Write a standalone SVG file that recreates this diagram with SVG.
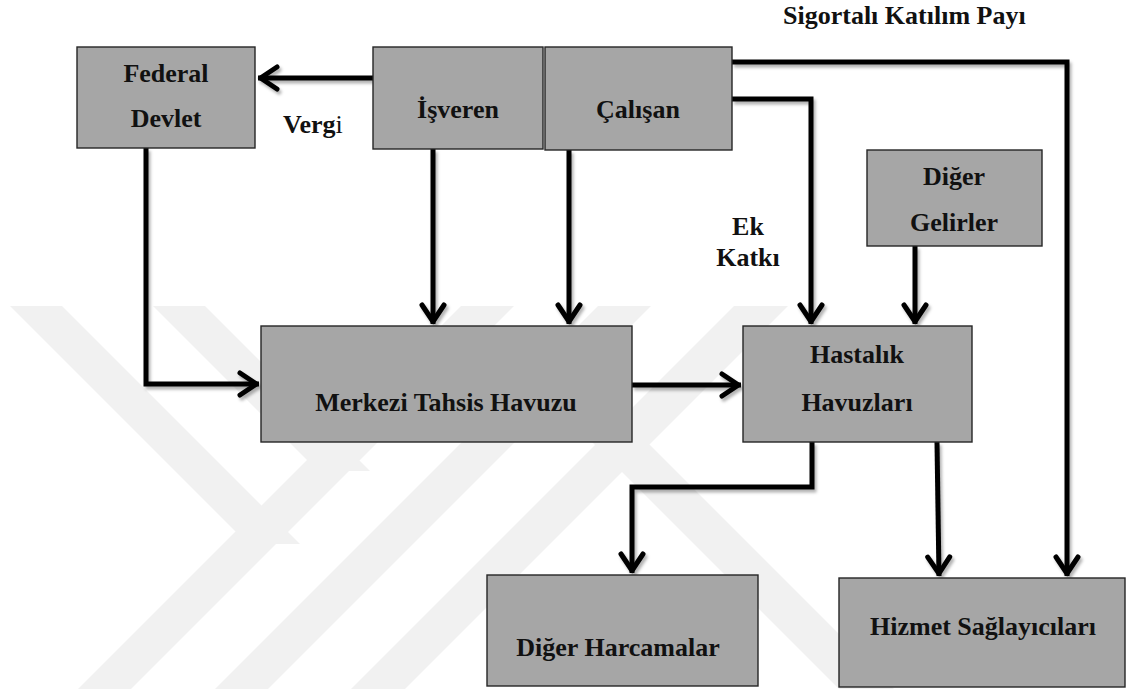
<svg xmlns="http://www.w3.org/2000/svg" width="1129" height="689" viewBox="0 0 1129 689">
<style>
.box{fill:#a6a6a6;stroke:#262626;stroke-width:1.4}
.t{font-family:"Liberation Serif","Times New Roman",serif;font-weight:bold;font-size:26px;fill:#111}
.c{text-anchor:middle}
.ln{fill:none;stroke:#000;stroke-width:5;stroke-linejoin:miter;marker-end:url(#ah)}
.wm{fill:#f1f1f1}
</style>
<defs>
<marker id="ah" markerUnits="userSpaceOnUse" markerWidth="30" markerHeight="30" viewBox="-25 -15 30 30" refX="0" refY="0" orient="auto">
<path d="M-19,-11 L-2.5,0 L-19,11" fill="none" stroke="#000" stroke-width="5" stroke-linecap="round" stroke-linejoin="round"/>
</marker>
<filter id="sh" x="-5%" y="-5%" width="110%" height="110%">
<feDropShadow dx="2" dy="3" stdDeviation="1.5" flood-color="#000" flood-opacity="0.3"/>
</filter>
</defs>
<rect width="1129" height="689" fill="#fff"/>
<g id="watermark">
<polygon class="wm" points="78,689 131,689 514,306 461,306"/>
<polygon class="wm" points="215,689 268,689 651,306 598,306"/>
<polygon class="wm" points="351,689 405,689 788,306 734,306"/>
<polygon class="wm" points="10,306 62,306 300,544 248,544"/>
<polygon class="wm" points="153,306 205,306 370,471 318,471"/>
<polygon class="wm" points="530,380 585,380 894,689 839,689"/>
</g>
<g id="connectors" filter="url(#sh)">
<path class="ln" d="M373,78 H258"/>
<path class="ln" d="M732,62 H1067 V576"/>
<path class="ln" d="M732,99 H811 V324"/>
<path class="ln" d="M915,246 V324"/>
<path class="ln" d="M433,149 V324"/>
<path class="ln" d="M569,150 V324"/>
<path class="ln" d="M146,148 V384 H259"/>
<path class="ln" d="M632,385 H741"/>
<path class="ln" d="M812,442 V487 H632 V573"/>
<path class="ln" d="M937,442 L939,576"/>
</g>
<g id="federal-devlet">
<rect class="box" x="77" y="47" width="178" height="101"/>
<text class="t c" x="166" y="82">Federal</text>
<text class="t c" x="166" y="127">Devlet</text>
</g>
<g id="isveren">
<rect class="box" x="373" y="47" width="170" height="102"/>
<text class="t c" x="458" y="118">İşveren</text>
</g>
<g id="calisan">
<rect class="box" x="545" y="47" width="187" height="103"/>
<text class="t c" x="638" y="118">Çalışan</text>
</g>
<g id="diger-gelirler">
<rect class="box" x="867" y="150" width="175" height="96"/>
<text class="t c" x="954" y="185">Diğer</text>
<text class="t c" x="954" y="231">Gelirler</text>
</g>
<g id="merkezi-tahsis-havuzu">
<rect class="box" x="261" y="326" width="371" height="116"/>
<text class="t c" x="446" y="411">Merkezi Tahsis Havuzu</text>
</g>
<g id="hastalik-havuzlari">
<rect class="box" x="743" y="326" width="229" height="116"/>
<text class="t c" x="857" y="363">Hastalık</text>
<text class="t c" x="857" y="411">Havuzları</text>
</g>
<g id="diger-harcamalar">
<rect class="box" x="487" y="575" width="271" height="111"/>
<text class="t c" x="618" y="656">Diğer Harcamalar</text>
</g>
<g id="hizmet-saglayicilari">
<rect class="box" x="839" y="578" width="286" height="109"/>
<text class="t c" x="983" y="635">Hizmet Sağlayıcıları</text>
</g>
<g id="labels">
<text class="t" x="283" y="133">Verg<tspan font-weight="normal">i</tspan></text>
<text class="t c" x="748" y="235">Ek</text>
<text class="t c" x="748" y="266">Katkı</text>
<text class="t" x="783" y="24">Sigortalı Katılım Payı</text>
</g>
</svg>
